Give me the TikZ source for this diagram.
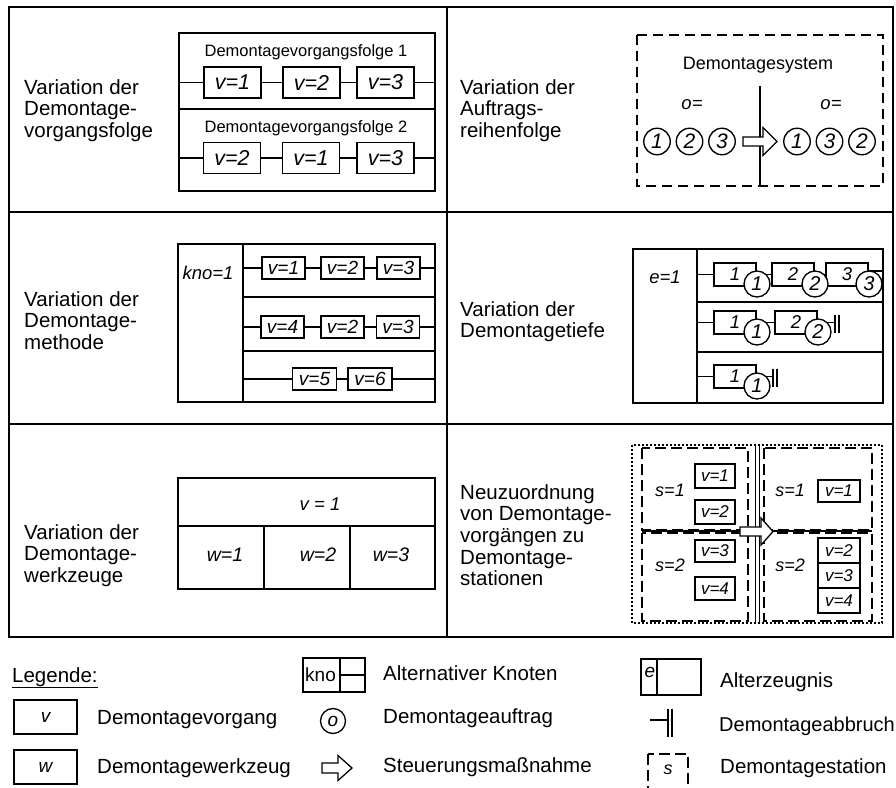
\documentclass[tikz,border=0pt]{standalone}
\usepackage{fontspec}
\setmainfont{Liberation Sans}
\newcommand{\fsz}[1]{\fontsize{#1}{#1}\selectfont}
\newcommand{\steerarrow}[6]{%
  \draw[line width=1.3pt, fill=white, line join=miter]
    (#1,#4-#5) -- (#2,#4-#5) -- (#2,#4-#6) -- (#3,#4) -- (#2,#4+#6) -- (#2,#4+#5) -- (#1,#4+#5) -- cycle;}
\tikzset{stopmark/.pic={\draw[line width=1.2pt] (0,-8) -- (0,10) (4,-8) -- (4,10);}}
\begin{document}
\begin{tikzpicture}[x=1pt,y=-1pt,
  gridline/.style={line width=2.5pt},
  thinline/.style={line width=1.35pt},
  ibox/.style={draw, line width=1.35pt, inner sep=0pt, fill=white},
  vtl/.style={ibox, minimum width=57pt, minimum height=31pt, font=\fsz{21.5}\itshape},
  vml/.style={ibox, minimum width=43pt, minimum height=22pt, font=\fsz{19}\itshape},
  vmr/.style={ibox, minimum width=42pt, minimum height=23pt, font=\fsz{18.5}\itshape},
  vbr/.style={ibox, minimum width=40pt, font=\fsz{17}\itshape},
  circ/.style={circle, draw, line width=1.35pt, fill=white, inner sep=0pt, minimum size=26.5pt, font=\fsz{21}\itshape},
  sidelbl/.style={anchor=north west, align=left, inner sep=0pt, font=\fontsize{20.5}{21.7}\selectfont},
  txt/.style={inner sep=0pt},
  itx/.style={inner sep=0pt, font=\fsz{18.5}\itshape},
  legtxt/.style={anchor=base west, inner sep=0pt, font=\fsz{20.5}},
  dashbox/.style={line width=2.5pt, dash pattern=on 10pt off 6pt},
  stationbox/.style={line width=2.5pt, dash pattern=on 11pt off 5pt},
  dotbox/.style={line width=2pt, dash pattern=on 1.8pt off 2.2pt},
]
\useasboundingbox (0,0) rectangle (896,787);
\fill[white] (0,0) rectangle (896,787);
\clip (0,0) rectangle (896,787);

% ---------- grid ----------
\draw[gridline] (9,7) rectangle (893,637);
\draw[gridline] (447,7) -- (447,637);
\draw[gridline] (9,212) -- (893,212);
\draw[gridline] (9,424) -- (893,424);

% ---------- side labels ----------
\node[sidelbl] (lTL) at (24,79) {Variation der\\Demontage-\\vorgangsfolge};
\node[sidelbl] (lTR) at (460,79) {Variation der\\Auftrags-\\reihenfolge};
\node[sidelbl] (lML) at (24,291) {Variation der\\Demontage-\\methode};
\node[sidelbl] (lMR) at (460,301) {Variation der\\Demontagetiefe};
\node[sidelbl] (lBL) at (24,524) {Variation der\\Demontage-\\werkzeuge};
\node[sidelbl] (lBR) at (460,484) {Neuzuordnung\\von Demontage-\\vorg\"angen zu\\Demontage-\\stationen};

% ---------- top left ----------
\draw[thinline] (179,33) rectangle (435,191);
\draw[thinline] (179,109) -- (435,109);
\node[txt, font=\fsz{16.5}] (tlh1) at (306,52.5) {Demontagevorgangsfolge 1};
\node[txt, font=\fsz{16.5}] (tlh2) at (306,128) {Demontagevorgangsfolge 2};
\node[vtl] (a1) at (232.5,82.5) {v=1};
\node[vtl] (a2) at (311.5,82.5) {v=2};
\node[vtl] (a3) at (385.5,82.5) {v=3};
\node[vtl] (b1) at (232,158) {v=2};
\node[vtl] (b2) at (311,158) {v=1};
\node[vtl] (b3) at (385.5,158) {v=3};
\coordinate (aL) at (179,82.5); \coordinate (aR) at (435,82.5);
\coordinate (bL) at (179,158); \coordinate (bR) at (435,158);
\draw[thinline] (aL) -- (a1) -- (a2) -- (a3) -- (aR);
\draw[thinline] (bL) -- (b1) -- (b2) -- (b3) -- (bR);

% ---------- top right ----------
\draw[dashbox] (637,35) rectangle (883,186);
\node[txt, font=\fsz{18}] (trh) at (758,65.5) {Demontagesystem};
\coordinate (trv1) at (760,86); \coordinate (trv2) at (760,186);
\draw[thinline] (trv1) -- (trv2);
\node[itx] (tro1) at (692,104.5) {o=};
\node[itx] (tro2) at (831,104.5) {o=};
\node[circ] (o1) at (657,141.5) {1};
\node[circ] (o2) at (689.5,141.5) {2};
\node[circ] (o3) at (722,141.5) {3};
\node[circ] (o4) at (797,141.5) {1};
\node[circ] (o5) at (829.5,141.5) {3};
\node[circ] (o6) at (862,141.5) {2};
\steerarrow{743}{763}{777}{141.5}{4.5}{14}

% ---------- middle left ----------
\draw[thinline] (178,244) rectangle (435,402);
\draw[thinline] (243,244) -- (243,402);
\draw[thinline] (243,297) -- (435,297);
\draw[thinline] (243,351) -- (435,351);
\node[txt, font=\fsz{18.5}\itshape] (kno) at (208,273) {kno=1};
\node[vml] (m11) at (283.5,268) {v=1};
\node[vml] (m12) at (342.5,268) {v=2};
\node[vml] (m13) at (398.5,268) {v=3};
\node[vml] (m21) at (282.5,327) {v=4};
\node[vml] (m22) at (342.5,327) {v=2};
\node[vml] (m23) at (398,327) {v=3};
\node[vml, minimum width=44pt] (m31) at (314.5,379) {v=5};
\node[vml, minimum width=44pt] (m32) at (370,379) {v=6};
\coordinate (mL1) at (243,268); \coordinate (mR1) at (435,268);
\coordinate (mL2) at (243,327); \coordinate (mR2) at (435,327);
\coordinate (mL3) at (243,379); \coordinate (mR3) at (435,379);
\draw[thinline] (mL1) -- (m11) -- (m12) -- (m13) -- (mR1);
\draw[thinline] (mL2) -- (m21) -- (m22) -- (m23) -- (mR2);
\draw[thinline] (mL3) -- (m31) -- (m32) -- (mR3);

% ---------- middle right ----------
\draw[thinline] (633,249) rectangle (883,403);
\draw[thinline] (697,249) -- (697,403);
\draw[thinline] (697,302) -- (883,302);
\draw[thinline] (697,352) -- (883,352);
\node[txt, font=\fsz{18.5}\itshape] (e1) at (665,277) {e=1};
\node[vmr] (e11) at (735,274.5) {1};
\node[vmr] (e12) at (793,274.5) {2};
\node[vmr] (e13) at (847,274.5) {3};
\node[vmr] (e21) at (735,322.5) {1};
\node[vmr] (e22) at (796,322.5) {2};
\node[vmr] (e31) at (735,376.5) {1};
\coordinate (eL1) at (697,274.5);
\coordinate (eR1) at (883,271);
\coordinate (eL2) at (697,322.5);
\coordinate (t2) at (835,322.5);
\coordinate (eL3) at (697,376.5);
\coordinate (t3) at (773,376.5);
\draw[thinline] (eL1) -- (e11) -- (e12) -- (e13);
\draw[thinline] (eR1 -| e13.east) -- (eR1);
\draw[thinline] (eL2) -- (e21) -- (e22) -- (t2);
\draw[thinline] (eL3) -- (e31) -- (t3);
\pic at (t2) {stopmark};
\pic at (t3) {stopmark};
\node[circ, minimum size=26pt, font=\fsz{20}\itshape] (ec11) at (757,284) {1};
\node[circ, minimum size=26pt, font=\fsz{20}\itshape] (ec12) at (815,284) {2};
\node[circ, minimum size=26pt, font=\fsz{20}\itshape] (ec13) at (869,284) {3};
\node[circ, minimum size=26pt, font=\fsz{20}\itshape] (ec21) at (757,332) {1};
\node[circ, minimum size=26pt, font=\fsz{20}\itshape] (ec22) at (818,332) {2};
\node[circ, minimum size=26pt, font=\fsz{20}\itshape] (ec31) at (757,386) {1};

% ---------- bottom left ----------
\draw[thinline] (178,478) rectangle (435,589);
\draw[thinline] (178,526) -- (435,526);
\draw[thinline] (264,526) -- (264,589);
\draw[thinline] (350,526) -- (350,589);
\node[txt, font=\fsz{18.5}\itshape] (wv) at (320,504) {v = 1};
\node[txt, font=\fsz{19.5}\itshape] (w1) at (225,555) {w=1};
\node[txt, font=\fsz{19.5}\itshape] (w2) at (318,555) {w=2};
\node[txt, font=\fsz{19.5}\itshape] (w3) at (391,555) {w=3};

% ---------- bottom right ----------
\draw[stationbox] (642,448) rectangle (748,530);
\draw[stationbox] (642,533) rectangle (748,621);
\draw[stationbox] (764,448) rectangle (872,530);
\draw[stationbox] (764,533) rectangle (872,621);
\draw[dotbox] (632,445) rectangle (882,623);
\draw[line width=0.9pt] (755,445) -- (755,623);
\draw[line width=0.9pt] (759,445) -- (759,623);
\draw[line width=1.8pt] (642,531) -- (872,531);
\node[txt, font=\fsz{18}\itshape] (s1) at (670,490) {s=1};
\node[txt, font=\fsz{18}\itshape] (s2) at (670,565) {s=2};
\node[txt, font=\fsz{18}\itshape] (s3) at (790,490) {s=1};
\node[txt, font=\fsz{18}\itshape] (s4) at (790,565) {s=2};
\node[vbr, minimum height=24pt] (bv1) at (715,476) {v=1};
\node[vbr, minimum height=24pt] (bv2) at (715,512) {v=2};
\node[vbr, minimum height=22pt] (bv3) at (715,551) {v=3};
\node[vbr, minimum height=23pt] (bv4) at (715,588.5) {v=4};
\node[vbr, minimum width=42pt, minimum height=22pt] (bv5) at (839,491) {v=1};
\node[vbr, minimum width=42pt, minimum height=25pt] (bv6) at (839,550.5) {v=2};
\node[vbr, minimum width=42pt, minimum height=25pt] (bv7) at (839,575.5) {v=3};
\node[vbr, minimum width=42pt, minimum height=25pt] (bv8) at (839,600.5) {v=4};
\steerarrow{740}{761}{773}{531.5}{4.5}{13.5}

% ---------- legend ----------
\node[legtxt] (leg) at (12,682) {\underline{Legende:}};
\node[ibox, minimum width=63pt, minimum height=34pt, font=\fsz{19}\itshape] (lv) at (45.5,717) {v};
\node[ibox, minimum width=63pt, minimum height=34pt, font=\fsz{19}\itshape] (lw) at (45.5,767) {w};
\node[legtxt] (lvt) at (97,724) {Demontagevorgang};
\node[legtxt] (lwt) at (97,773) {Demontagewerkzeug};

\node[ibox, minimum width=62pt, minimum height=34pt] (lk) at (334,675) {};
\draw[thinline] (340,658) -- (340,692);
\draw[thinline] (340,675) -- (365,675);
\node[txt, anchor=west, font=\fsz{19}] (lkt) at (305,675) {kno};
\node[circ, minimum size=25pt, font=\fsz{19}\itshape] (lo) at (333,721) {o};
\steerarrow{322}{338}{352}{768}{5}{12.5}
\node[legtxt] (lkx) at (383,680) {Alternativer Knoten};
\node[legtxt] (lox) at (383,723) {Demontageauftrag};
\node[legtxt] (lax) at (383,772) {Steuerungsma\ss nahme};

\node[ibox, minimum width=60pt, minimum height=36pt] (le) at (671,677) {};
\draw[thinline] (657,659) -- (657,695);
\node[txt, font=\fsz{19}\itshape] (let) at (650,672) {e};
\coordinate (lt1) at (650,720); \coordinate (lt2) at (668,720);
\draw[thinline] (lt1) -- (lt2);
\draw[line width=1.2pt] (668,709) -- (668,737) (672,709) -- (672,737);
\draw[stationbox] (648,754) rectangle (688,805);
\node[txt, font=\fsz{18}\itshape] (lst) at (668,770) {s};
\node[legtxt] (lex) at (720,687) {Alterzeugnis};
\node[legtxt, font=\fsz{20}] (ltx) at (719,731) {Demontageabbruch};
\node[legtxt] (lsx) at (720,773) {Demontagestation};
\end{tikzpicture}
\end{document}
